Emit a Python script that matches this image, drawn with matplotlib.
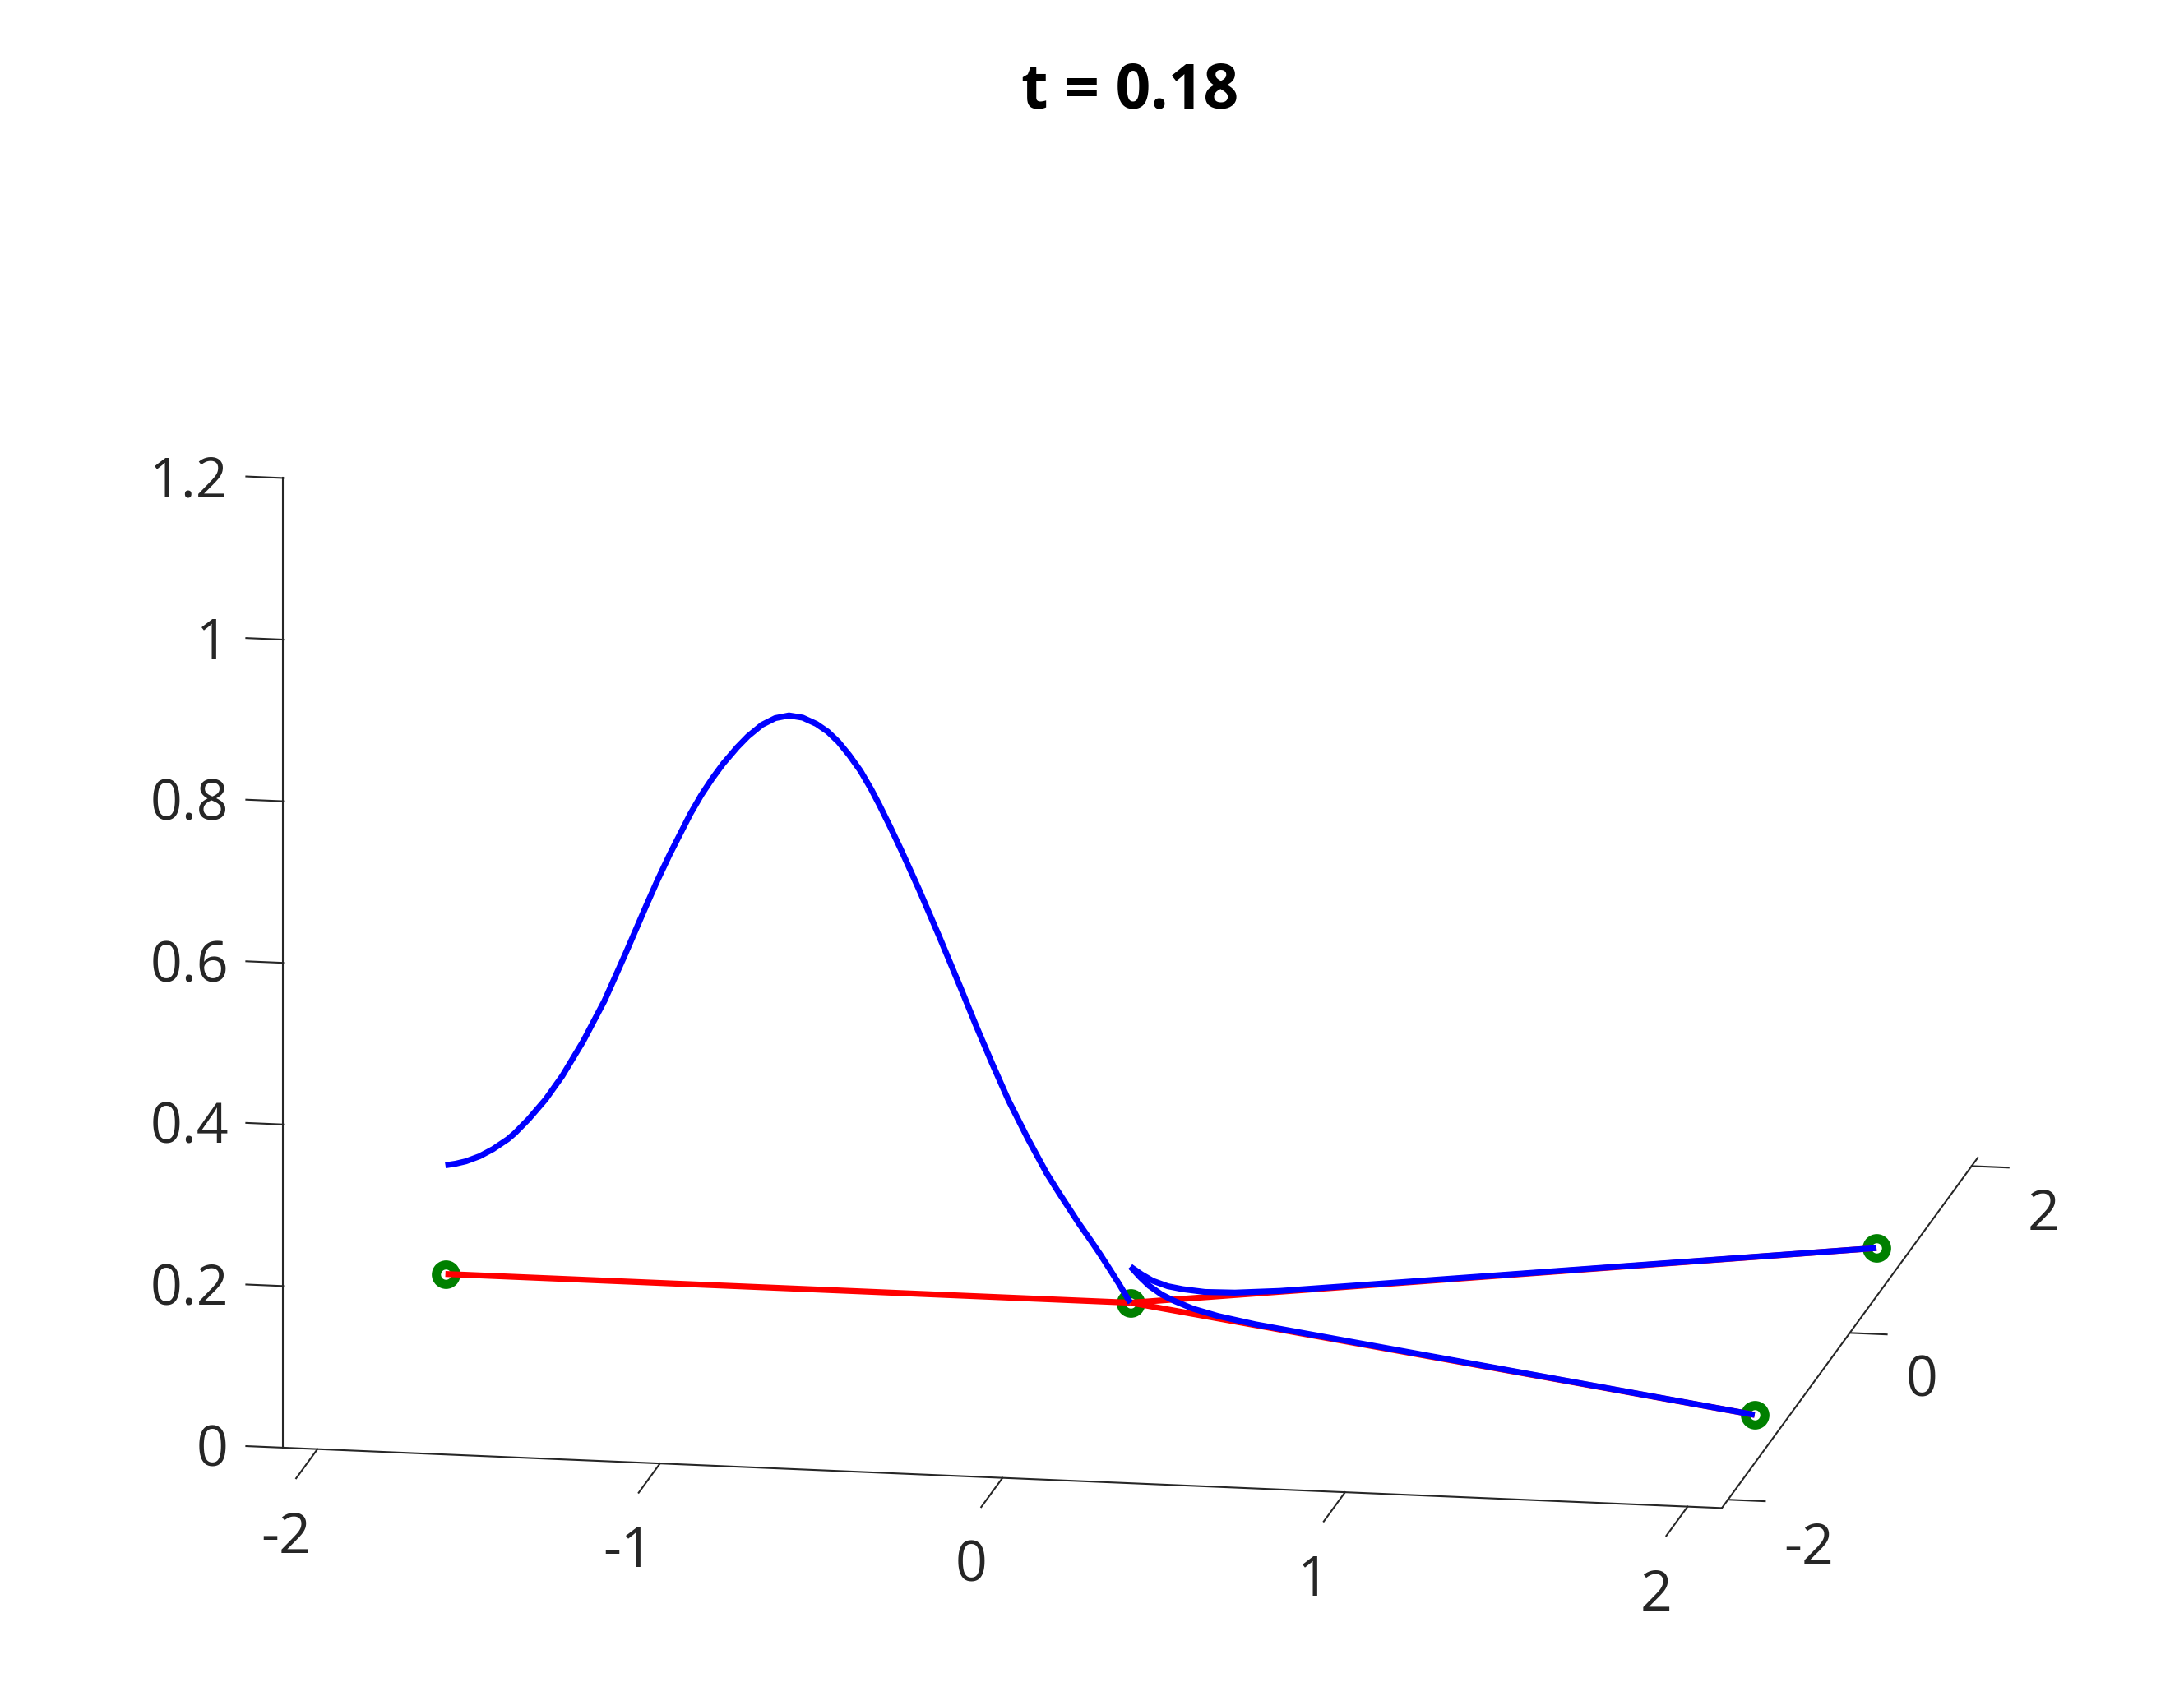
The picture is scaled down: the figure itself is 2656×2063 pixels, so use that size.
import numpy as np
import matplotlib
matplotlib.use("Agg")
import matplotlib.pyplot as plt
from mpl_toolkits.mplot3d import proj3d

# ---------------- data ----------------
title_text = "t = 0.18"

# graph vertices (centre + three ends), all at height 0
vertex_x = [0.0, -2.0, 2.0, 2.0]
vertex_y = [0.0, 0.0, 1.0, -1.0]
vertex_z = [0.0, 0.0, 0.0, 0.0]
edge_ends = [1, 2, 3]          # every edge starts at vertex 0

# blue curve on the edge towards (-2, 0): x position and height
edge1_x = [-2.000, -1.970, -1.940, -1.900, -1.861, -1.818, -1.797, -1.757,
           -1.708, -1.659, -1.598, -1.536, -1.475, -1.414, -1.380, -1.345,
           -1.285, -1.253, -1.221, -1.189, -1.148, -1.117, -1.076, -1.037,
           -0.997, -0.957, -0.917, -0.884, -0.853, -0.821, -0.788, -0.757,
           -0.733, -0.701, -0.668, -0.618, -0.557, -0.495, -0.452, -0.404,
           -0.356, -0.300, -0.245, -0.210, -0.180, -0.150, -0.116, -0.088,
           -0.060, -0.034, -0.008, 0.000]
edge1_z = [0.1345, 0.137, 0.1405, 0.1475, 0.157, 0.170, 0.178, 0.196,
           0.221, 0.251, 0.295, 0.346, 0.405, 0.466, 0.499, 0.531,
           0.582, 0.606, 0.627, 0.646, 0.667, 0.681, 0.696, 0.705,
           0.709, 0.707, 0.700, 0.691, 0.679, 0.663, 0.644, 0.622,
           0.603, 0.576, 0.547, 0.501, 0.442, 0.380, 0.336, 0.289,
           0.244, 0.198, 0.156, 0.133, 0.114, 0.095, 0.075, 0.058,
           0.040, 0.023, 0.005, 0.000]

# blue curves on the two right edges: x position along edge and height
edge23_x = [0.0, 0.03, 0.06, 0.10, 0.14, 0.20, 0.28, 0.40, 2.0]
edge23_z = [0.0446, 0.034, 0.025, 0.017, 0.012, 0.0065, 0.003, 0.001, 0.0]

x_ticks = [-2, -1, 0, 1, 2]
x_ticklabels = ["-2", "-1", "0", "1", "2"]
y_ticks = [-2, 0, 2]
y_ticklabels = ["-2", "0", "2"]
z_ticks = [0, 0.2, 0.4, 0.6, 0.8, 1.0, 1.2]
z_ticklabels = ["0", "0.2", "0.4", "0.6", "0.8", "1", "1.2"]

x_lim = (-2.1, 2.1)
y_lim = (-2.1, 2.1)
z_lim = (0.0, 1.2)

# ---------------- style ----------------
W, H, DPI = 2656, 2063, 200
AX_COLOR = "#262626"
FONT = ["Open Sans", "Noto Sans", "DejaVu Sans"]
plt.rcParams["font.family"] = FONT

fig = plt.figure(figsize=(W / DPI, H / DPI), dpi=DPI)
ax = fig.add_axes([0.1, 0.1, 0.8, 0.8], projection="3d", computed_zorder=False)
ax.set_proj_type("ortho")
ax.set_xlim(*x_lim)
ax.set_ylim(*y_lim)
ax.set_zlim(*z_lim)
ax.set_box_aspect((1.0, 1.016, 0.684))
ax.view_init(elev=13.87, azim=-80.07)
ax.set_axis_off()

x0, x1 = x_lim
y0, y1 = y_lim
z0, z1 = z_lim
alw = 0.75
LW = 2.6

# axis lines (MATLAB style: front x, right y, front-left z)
ax.plot([x0, x1], [y0, y0], [z0, z0], color=AX_COLOR, lw=alw, zorder=1)
ax.plot([x1, x1], [y0, y1], [z0, z0], color=AX_COLOR, lw=alw, zorder=1)
ax.plot([x0, x0], [y0, y0], [z0, z1], color=AX_COLOR, lw=alw, zorder=1)

for xt in x_ticks:
    ax.plot([xt, xt], [y0, y0 - 0.35], [z0, z0], color=AX_COLOR, lw=alw, zorder=1)
for yt in y_ticks:
    ax.plot([x1, x1 + 0.108], [yt, yt], [z0, z0], color=AX_COLOR, lw=alw, zorder=1)
for zt in z_ticks:
    ax.plot([x0, x0 - 0.108], [y0, y0], [zt, zt], color=AX_COLOR, lw=alw, zorder=1)

# vertices
ax.plot(vertex_x, vertex_y, vertex_z, linestyle="none", marker="o",
        markerfacecolor="none", markeredgecolor=(0, 0.5, 0),
        markersize=8.5, markeredgewidth=4.0, zorder=2)

# red edges
for e in edge_ends:
    ax.plot([vertex_x[0], vertex_x[e]], [vertex_y[0], vertex_y[e]],
            [vertex_z[0], vertex_z[e]], color=(1, 0, 0), lw=LW,
            solid_capstyle="butt", zorder=3)

# blue curves
e1x = np.array(edge1_x)
ax.plot(e1x, np.zeros_like(e1x), edge1_z, color=(0, 0, 1), lw=LW,
        solid_capstyle="butt", solid_joinstyle="round", zorder=4)
e23x = np.array(edge23_x)
for e in (2, 3):
    slope = vertex_y[e] / vertex_x[e]
    ax.plot(e23x, slope * e23x, edge23_z, color=(0, 0, 1), lw=LW,
            solid_capstyle="butt", solid_joinstyle="round", zorder=4)

fig.text(1374.5 / W, 1 - 103.3 / H, title_text, ha="center", va="center_baseline",
         fontsize=27, fontweight="bold", color="black")

# ---------------- place the box where the reference has it ----------------
def to_px(pts):
    pts = np.asarray(pts, float)
    M = ax.get_proj()
    xs, ys, _ = proj3d.proj_transform(pts[:, 0], pts[:, 1], pts[:, 2], M)
    return ax.transData.transform(np.column_stack([xs, ys]))

ref3d = [(x0, y0, z0), (x1, y0, z0), (x0, y0, z1), (x1, y1, z0)]
target = np.array([(345, 1761), (2095, 1834), (345, 578), (2403, 1412)], float)
target[:, 1] = H - target[:, 1]
for _ in range(3):
    fig.canvas.draw()
    cur = to_px(ref3d)
    co, tn = cur.mean(0), target.mean(0)
    s = np.sum((cur - co) * (target - tn)) / np.sum((cur - co) ** 2)
    t = tn - s * co
    bb = ax.get_position().transformed(fig.transFigure)
    nx0, ny0 = s * bb.x0 + t[0], s * bb.y0 + t[1]
    ax.set_position([nx0 / W, ny0 / H, s * bb.width / W, s * bb.height / H])
fig.canvas.draw()

# tick labels, placed at the projected anchor of each tick
fs_tick = 24.5
def label_at(p3, text, ha):
    px = to_px([p3])[0]
    fig.text(px[0] / W, px[1] / H, text, ha=ha, va="center_baseline",
             fontsize=fs_tick, color=AX_COLOR)

for xt, lab in zip(x_ticks, x_ticklabels):
    label_at((xt, y0 - 0.519, z0 - 0.0487), lab, "center")
for yt, lab in zip(y_ticks, y_ticklabels):
    label_at((x1 + 0.163, yt, z0 - 0.0498), lab, "left")
for zt, lab in zip(z_ticks, z_ticklabels):
    label_at((x0 - 0.16, y0, zt), lab, "right")

fig.savefig("out.png", dpi=DPI)
